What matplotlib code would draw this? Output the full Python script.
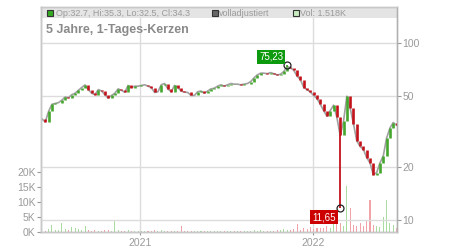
import numpy as np
import pandas as pd
import matplotlib
matplotlib.use("Agg")
import matplotlib.pyplot as plt
import matplotlib.dates as mdates
from matplotlib.patches import Rectangle
from matplotlib.ticker import FixedLocator, NullLocator, NullFormatter

plt.rcParams['font.family'] = ['Liberation Sans', 'DejaVu Sans']

# ---------------- data (weekly) ----------------
dates = pd.date_range('2020-06-08', periods=108, freq='7D')
closes = [37.2, 35.8, 41, 45, 45.5, 46, 47.5, 49.5, 49, 51,
          52, 54, 56, 57.9, 54.5, 52, 51, 54.5, 53.5, 51,
          48.8, 50.5, 52, 55, 54, 52.6, 57.5, 56, 57, 57,
          57.5, 58, 57, 56, 52.5, 53, 58, 59, 55, 53,
          57.5, 56, 53.5, 52.8, 52.5, 50.5, 50.5, 53, 53.5, 52,
          53.5, 55, 55.5, 57, 58, 57, 58, 59, 58.5, 58.5,
          58, 58.5, 59, 60.5, 63.5, 66, 67.5, 67.5, 67, 68,
          67, 66, 66.5, 69, 73.5, 72.5, 70, 65, 62, 56,
          54.5, 52.8, 50.5, 48.5, 45, 41.5, 38.5, 41.5, 44.5, 38,
          30, 36, 50, 43, 35, 28, 26, 25, 22.5, 21,
          18, 18.5, 21, 23, 29, 33, 35.5, 34.3]
volumes_k = [0.8, 0.5, 1.0, 2.3, 0.6, 0.8, 3.0, 0.9, 0.7, 1.7,
             1.3, 1.0, 0.8, 2.0, 0.6, 0.5, 0.7, 0.4, 0.5, 0.6,
             0.8, 0.5, 3.7, 0.6, 0.5, 0.4, 0.6, 0.3, 0.4, 0.5,
             0.3, 0.4, 0.5, 0.3, 0.6, 0.4, 0.7, 0.4, 0.5, 0.3,
             0.4, 0.3, 2.0, 0.3, 0.4, 0.3, 0.3, 0.5, 0.4, 0.3,
             0.5, 0.3, 0.4, 0.3, 0.5, 0.3, 0.4, 0.3, 0.5, 0.3,
             0.4, 0.3, 0.5, 0.3, 0.7, 0.5, 0.6, 0.4, 0.5, 0.4,
             0.5, 0.8, 0.6, 1.0, 0.7, 0.8, 0.9, 2.7, 0.8, 1.2,
             0.9, 1.7, 1.0, 1.2, 1.5, 1.3, 2.0, 1.5, 4.0, 6.3,
             3.0, 2.0, 15.3, 8.0, 2.5, 2.0, 3.0, 2.0, 4.0, 10.7,
             2.3, 2.0, 1.8, 5.0, 10.7, 3.0, 2.5, 1.5]
max_price, max_idx = 75.23, 74
min_price, min_idx = 11.65, 90
price_ticks = [10, 20, 50, 100]
vol_ticks = [0, 5, 10, 15, 20]
vol_labels = ['0K', '5K', '10K', '15K', '20K']
year_ticks = ['2021-01-01', '2022-01-01']
year_labels = ['2021', '2022']
header = "Op:32.7, Hi:35.3, Lo:32.5, Cl:34.3"
title = "5 Jahre, 1-Tages-Kerzen"

# ---------------- styling ----------------
W, H = 450, 250
GREEN = '#45a52e'
RED = '#c4121b'
VGREEN = '#a9dc9f'
VRED = '#f2a3aa'
GRID = '#dcdcdc'
TXT = '#9a9a9a'

fig = plt.figure(figsize=(W / 100, H / 100), dpi=100)
L, R, T, B = 41, 397, 7, 232
rect = [L / W, 1 - B / H, (R - L) / W, (B - T) / H]

axv = fig.add_axes(rect)
ax = axv.twinx()
ax.patch.set_visible(False)

xmin = pd.Timestamp('2020-06-06')
xmax = pd.Timestamp('2022-06-28')

# volume
closes_a = np.array(closes)
opens_a = np.r_[closes_a[0], closes_a[:-1]]
up = closes_a >= opens_a
vcols = [VGREEN if u else VRED for u in up]
axv.bar(dates, volumes_k, width=2.2, color=vcols, linewidth=0, zorder=2)
axv.set_ylim(0, 75)
axv.set_xlim(xmin, xmax)
axv.yaxis.set_major_locator(FixedLocator(vol_ticks))
axv.set_yticklabels(vol_labels)
axv.tick_params(axis='y', colors='#999999', labelcolor=TXT, labelsize=7.5,
                length=3, width=0.8, pad=1)

# grid + header band on volume axes (bottom layer)
for yr in year_ticks:
    axv.axvline(pd.Timestamp(yr), color=GRID, lw=1, zorder=0)
hb = Rectangle((0, (B - 18) / (B - T)), 1, 1 - (B - 18) / (B - T),
               transform=axv.transAxes, facecolor='#e4e4e4', edgecolor='none', zorder=1)
axv.add_patch(hb)

# price
ax.set_yscale('log')
ax.set_ylim(8.55, 159.6)
ax.set_xlim(xmin, xmax)
for p in price_ticks:
    ax.axhline(p, color=GRID, lw=1, zorder=0)
ax.plot(dates, closes, color='#a0a0a0', lw=1.2, zorder=2)
cols = [GREEN if u else RED for u in up]
ax.vlines(dates, opens_a, closes_a, colors=cols, lw=1.9, zorder=3)
# extreme wicks
ax.vlines(dates[min_idx], min_price, min(opens_a[min_idx], closes_a[min_idx]),
          colors=RED, lw=1.3, zorder=3)
ax.vlines(dates[max_idx], max(opens_a[max_idx], closes_a[max_idx]), max_price,
          colors=GREEN, lw=1.3, zorder=3)
ax.plot([dates[max_idx]], [max_price], 'o', mfc='none', mec='#222222', ms=5, mew=0.9, zorder=5)
ax.plot([dates[min_idx]], [min_price], 'o', mfc='none', mec='#222222', ms=5, mew=0.9, zorder=5)
ax.annotate(f"{max_price:.2f}".replace('.', ','), (dates[max_idx], max_price),
            xytext=(-16, 8), textcoords='offset pixels', ha='center', va='center',
            fontsize=7, color='white',
            bbox=dict(boxstyle='square,pad=0.2', fc='#0e9a0e', ec='none'), zorder=6)
ax.annotate(f"{min_price:.2f}".replace('.', ','), (dates[min_idx], min_price),
            xytext=(-16, -9), textcoords='offset pixels', ha='center', va='center',
            fontsize=7, color='white',
            bbox=dict(boxstyle='square,pad=0.2', fc='#cc0000', ec='none'), zorder=6)

ax.yaxis.set_major_locator(FixedLocator(price_ticks))
ax.yaxis.set_minor_locator(NullLocator())
ax.yaxis.set_minor_formatter(NullFormatter())
ax.set_yticklabels([str(p) for p in price_ticks])
ax.tick_params(axis='y', colors='#999999', labelcolor=TXT, labelsize=7.5,
               length=3, width=0.8, pad=1)

axv.xaxis.set_major_locator(FixedLocator(mdates.date2num(pd.to_datetime(year_ticks))))
axv.set_xticklabels(year_labels)
axv.tick_params(axis='x', colors='#999999', labelcolor=TXT, labelsize=7.5,
                length=2, width=0.8, pad=2)
ax.tick_params(axis='x', bottom=False, labelbottom=False)

for a in (ax, axv):
    for s in a.spines.values():
        s.set_color('#c8c8c8')
        s.set_linewidth(1)
ax.spines['right'].set_color('#b0b0b0')
axv.spines['left'].set_color('#b0b0b0')
axv.spines['bottom'].set_color('#b0b0b0')


def fx(px):
    return px / W


def fy(py):
    return 1 - py / H


# header legend
def square(x, y, fc, ec='#333333'):
    fig.add_artist(Rectangle((fx(x), fy(y + 6)), 6 / W, 6 / H, transform=fig.transFigure,
                             facecolor=fc, edgecolor=ec, lw=0.8, zorder=10))


square(47, 10, '#33aa22')
fig.text(fx(56), fy(13), header, fontsize=6.5, color='#9a9a9a', va='center', ha='left')
square(212, 10, '#666666')
fig.text(fx(219), fy(13), 'volladjustiert', fontsize=6.5, color='#9a9a9a', va='center', ha='left')
square(293, 10, '#c8ecc0')
fig.text(fx(300), fy(13), 'Vol: 1.518K', fontsize=6.5, color='#9a9a9a', va='center', ha='left')

fig.text(fx(46), fy(30), title, fontsize=9, fontweight='bold', color='#8a8a8a',
         va='center', ha='left')

fig.savefig('out.png', dpi=100)
